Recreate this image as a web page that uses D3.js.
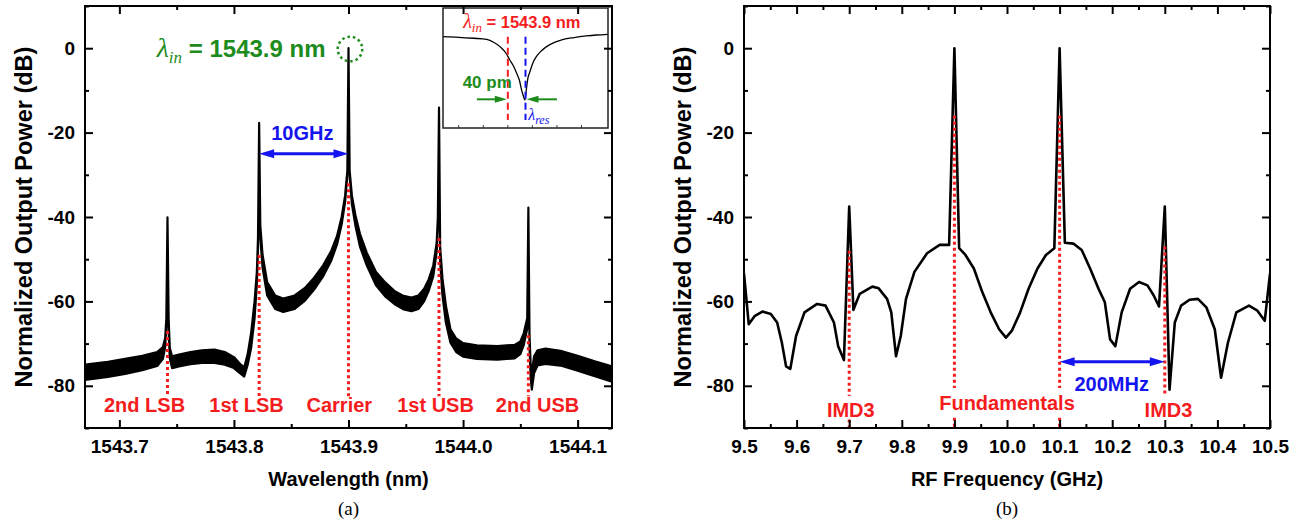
<!DOCTYPE html>
<html>
<head>
<meta charset="utf-8">
<script src="https://cdn.jsdelivr.net/npm/d3@7"></script>
<style>
body { margin: 0; background: #fff; }
</style>
</head>
<body>
<svg id="fig" width="1303" height="527" font-family="'Liberation Sans', Arial, sans-serif" font-weight="bold"></svg>
<script>
// ---- panel (a): optical spectrum, drawn as a band (upper / lower envelope) ----
const specWl = [1543.670, 1543.690, 1543.705, 1543.720, 1543.733, 1543.738, 1543.740, 1543.741, 1543.742, 1543.743,
    1543.744, 1543.746, 1543.752, 1543.762, 1543.772, 1543.783, 1543.792, 1543.800, 1543.806, 1543.809,
    1543.812, 1543.815, 1543.818, 1543.820, 1543.821, 1543.822, 1543.823, 1543.825, 1543.829, 1543.836,
    1543.843, 1543.853, 1543.862, 1543.870, 1543.878, 1543.885, 1543.890, 1543.894, 1543.897, 1543.899,
    1543.900, 1543.901, 1543.903, 1543.906, 1543.910, 1543.916, 1543.924, 1543.932, 1543.940, 1543.948,
    1543.955, 1543.961, 1543.966, 1543.970, 1543.974, 1543.977, 1543.978, 1543.979, 1543.980, 1543.982,
    1543.985, 1543.989, 1543.994, 1544.000, 1544.012, 1544.030, 1544.045, 1544.050, 1544.053, 1544.056,
    1544.057, 1544.058, 1544.059, 1544.060, 1544.062, 1544.065, 1544.072, 1544.085, 1544.100, 1544.115, 1544.130]
const specTop = [-75.0, -74.3, -73.6, -72.9, -72.0, -70.8, -68.6, -64.0, -40.1, -64.0,
    -71.0, -73.0, -72.6, -72.0, -71.6, -71.4, -72.0, -73.2, -75.0, -75.6,
    -72.5, -67.5, -60.0, -53.0, -45.0, -17.7, -42.0, -49.0, -55.4, -58.6,
    -59.3, -58.6, -56.8, -54.4, -51.4, -48.0, -44.5, -40.0, -35.0, -29.0,
    0.0, -29.0, -35.0, -39.5, -44.0, -48.5, -53.0, -55.5, -57.5, -58.7,
    -59.1, -58.6, -57.0, -54.8, -51.5, -46.0, -40.0, -14.1, -47.0, -54.5,
    -61.0, -66.6, -68.8, -69.9, -70.4, -70.6, -70.3, -69.5, -67.5, -64.0,
    -37.8, -68.0, -75.0, -77.0, -73.0, -71.6, -71.2, -71.7, -72.9, -74.2, -75.4]
const specBot = [-78.6, -77.9, -77.2, -76.3, -75.3, -73.6, -70.8, -66.0, -40.1, -67.0,
    -73.5, -75.8, -75.4, -74.9, -74.6, -74.6, -75.0, -75.8, -77.2, -77.8,
    -75.0, -71.0, -64.0, -56.0, -47.5, -17.7, -45.0, -52.0, -58.6, -61.8,
    -62.5, -61.8, -59.8, -57.2, -54.0, -50.3, -46.5, -41.8, -36.5, -30.0,
    0.0, -30.5, -37.0, -42.0, -47.0, -51.5, -56.2, -58.8, -60.6, -61.9,
    -62.3, -61.8, -60.0, -57.5, -54.0, -48.2, -42.0, -14.1, -50.5, -58.5,
    -65.0, -69.8, -72.0, -73.1, -73.6, -73.8, -73.5, -72.5, -70.3, -66.5,
    -37.8, -71.0, -78.0, -80.9, -77.0, -75.2, -74.8, -75.2, -76.4, -77.7, -79.0]

const sideNames = ["2nd LSB", "1st LSB", "Carrier", "1st USB", "2nd USB"]
const sideWl = [1543.742, 1543.822, 1543.900, 1543.979, 1544.057]
const sideMarkTop = [-67, -49, -32, -45, -68]
const sideMarkBottom = -82.5
const sideLabelWl = [1543.722, 1543.811, 1543.892, 1543.976, 1544.065]
const sideLabelDb = -84.6

const xTicksA = [1543.7, 1543.8, 1543.9, 1544.0, 1544.1]
const xMinorA = [1543.75, 1543.85, 1543.95, 1544.05]
const yTicks = [-80, -60, -40, -20, 0]
const yMinor = [-90, -70, -50, -30, -10, 10]

// inset: microring transmission (normalised)
const insetWl = [1543.768, 1543.800, 1543.830, 1543.857, 1543.872, 1543.884, 1543.896, 1543.904, 1543.912, 1543.918,
    1543.924, 1543.928, 1543.931, 1543.935, 1543.938, 1543.941, 1543.945, 1543.951, 1543.958, 1543.968,
    1543.979, 1543.995, 1544.013, 1544.035, 1544.060, 1544.080, 1544.104]
const insetT = [0.761, 0.756, 0.748, 0.739, 0.713, 0.678, 0.625, 0.567, 0.513, 0.456,
    0.392, 0.317, 0.275, 0.233, 0.330, 0.417, 0.469, 0.542, 0.594, 0.642,
    0.678, 0.713, 0.739, 0.754, 0.767, 0.775, 0.781]
const insetTicks = [1543.80, 1543.85, 1543.90, 1543.95, 1544.00, 1544.05]
const lambdaIn = 1543.900
const lambdaRes = 1543.936

// ---- panel (b): RF spectrum ----
const rfFreq = [9.500, 9.509, 9.520, 9.535, 9.551, 9.563, 9.572, 9.580, 9.588, 9.599,
    9.615, 9.639, 9.655, 9.671, 9.679, 9.690, 9.700, 9.708, 9.720, 9.744,
    9.756, 9.772, 9.780, 9.789, 9.798, 9.808, 9.824, 9.848, 9.872, 9.890,
    9.900, 9.909, 9.921, 9.937, 9.953, 9.969, 9.985, 9.998, 10.009, 10.025,
    10.041, 10.058, 10.074, 10.090, 10.100, 10.110, 10.126, 10.142, 10.158, 10.174,
    10.186, 10.196, 10.206, 10.218, 10.234, 10.251, 10.267, 10.279, 10.289, 10.300,
    10.309, 10.319, 10.331, 10.347, 10.363, 10.379, 10.395, 10.407, 10.420, 10.436,
    10.460, 10.476, 10.490, 10.500]
const rfPower = [-53.4, -65.4, -63.5, -62.4, -63.0, -65.0, -69.8, -75.4, -76.0, -68.2,
    -62.6, -60.6, -61.0, -65.0, -70.6, -73.9, -37.5, -62.0, -58.2, -56.5,
    -56.9, -59.4, -62.6, -73.0, -68.2, -59.4, -53.0, -48.6, -46.6, -46.6,
    0.0, -47.4, -49.0, -52.2, -57.8, -62.6, -66.6, -68.6, -67.0, -62.6,
    -57.0, -52.2, -49.0, -47.4, 0.0, -46.1, -46.3, -47.8, -52.2, -57.0,
    -60.2, -69.0, -70.6, -62.6, -57.0, -55.4, -56.2, -58.6, -61.2, -37.5,
    -80.9, -65.0, -61.0, -59.6, -59.4, -61.4, -66.6, -78.1, -69.8, -62.6,
    -61.0, -62.2, -64.6, -53.4]

const rfMarkFreq = [9.7, 9.9, 10.1, 10.3]
const rfMarkTop = [-48, -16, -16, -47]
const rfMarkBottom = [-82.4, -80.5, -80.5, -82.3]
const rfStubTop = [-88.0, -87.6, -87.6, null]
const rfLabels = ["IMD3", "Fundamentals", "IMD3"]
const rfLabelFreq = [9.703, 10.0, 10.307]
const rfLabelDb = [-85.7, -84.0, -85.7]

const xTicksB = [9.5, 9.6, 9.7, 9.8, 9.9, 10.0, 10.1, 10.2, 10.3, 10.4, 10.5]
const xMinorB = [9.55, 9.65, 9.75, 9.85, 9.95, 10.05, 10.15, 10.25, 10.35, 10.45]

const RED = "#f41c1c", BLUE = "#1414f0", GREEN = "#1d8c1d"
const SERIF = "'Liberation Serif', 'Times New Roman', serif"

const svg = d3.select("#fig")
svg.append("rect").attr("width", 1303).attr("height", 527).attr("fill", "#fff")

const yL = d3.scaleLinear().domain([-90, 10]).range([428, 6])
const xA = d3.scaleLinear().domain([1543.67, 1544.13]).range([85, 612])
const xB = d3.scaleLinear().domain([9.5, 10.5]).range([744, 1270])


function drawFrame(g, x, y, xMajor, xMinor, fmt) {
    const h = y.range()[0]
    const w = x.range()[1]
    function style(sel, sw) {
        sel.select(".domain").remove()
        sel.selectAll("line").attr("stroke", "#000").attr("stroke-width", sw)
        sel.selectAll("text").attr("font-size", 19).attr("fill", "#000")
        sel.attr("font-family", null).attr("font-size", null)
    }
    g.append("g").attr("transform", `translate(0,${h})`)
        .call(d3.axisBottom(x).tickValues(xMajor).tickSize(-8).tickPadding(12).tickFormat(fmt))
        .call(style, 2)
    g.append("g").attr("transform", `translate(0,${h})`)
        .call(d3.axisBottom(x).tickValues(xMinor).tickSize(-4).tickFormat(""))
        .call(style, 2)
    g.append("g").attr("transform", `translate(0,${y.range()[1]})`)
        .call(d3.axisTop(x).tickValues(xMajor).tickSize(-8).tickFormat(""))
        .call(style, 2)
    g.append("g").attr("transform", `translate(0,${y.range()[1]})`)
        .call(d3.axisTop(x).tickValues(xMinor).tickSize(-4).tickFormat(""))
        .call(style, 2)
    g.append("g").attr("transform", `translate(${x.range()[0]},0)`)
        .call(d3.axisLeft(y).tickValues(yTicks).tickSize(-8).tickPadding(10).tickFormat(d => String(d)))
        .call(style, 2)
    g.append("g").attr("transform", `translate(${x.range()[0]},0)`)
        .call(d3.axisLeft(y).tickValues(yMinor).tickSize(-4).tickFormat(""))
        .call(style, 2)
    g.append("g").attr("transform", `translate(${w},0)`)
        .call(d3.axisRight(y).tickValues(yTicks).tickSize(-8).tickFormat(""))
        .call(style, 2)
    g.append("g").attr("transform", `translate(${w},0)`)
        .call(d3.axisRight(y).tickValues(yMinor).tickSize(-4).tickFormat(""))
        .call(style, 2)
    g.append("rect")
        .attr("x", x.range()[0]).attr("y", y.range()[1])
        .attr("width", w - x.range()[0]).attr("height", h - y.range()[1])
        .attr("fill", "none").attr("stroke", "#000").attr("stroke-width", 2)
}


function arrowHead(g, tipX, tipY, dir, len, half, color) {
    // dir = +1 points right, -1 points left
    g.append("path")
        .attr("d", `M${tipX},${tipY} L${tipX - dir * len},${tipY - half} L${tipX - dir * len},${tipY + half} Z`)
        .attr("fill", color)
}

function doubleArrow(g, x1, x2, y, color) {
    g.append("line").attr("x1", x1 + 10).attr("x2", x2 - 10).attr("y1", y).attr("y2", y)
        .attr("stroke", color).attr("stroke-width", 3)
    arrowHead(g, x1, y, -1, 15, 4.5, color)
    arrowHead(g, x2, y, 1, 15, 4.5, color)
}

// lambda with italic serif subscript, then plain bold text
function lambdaText(g, x, y, color, sub, rest, bigSize, subSize, restSize, shift) {
    const t = g.append("text").attr("x", x).attr("y", y).attr("fill", color)
    t.append("tspan").attr("font-family", SERIF).attr("font-style", "italic")
        .attr("font-weight", "normal").attr("font-size", bigSize).text("λ")
    t.append("tspan").attr("font-family", SERIF).attr("font-style", "italic")
        .attr("font-weight", "normal").attr("font-size", subSize).attr("dy", shift).text(sub)
    if (rest) t.append("tspan").attr("font-size", restSize).attr("dy", -shift).text(rest)
    return t
}

// ================= panel (a) =================
const gA = svg.append("g")
svg.append("clipPath").attr("id", "clipA").append("rect")
    .attr("x", 85).attr("y", 6).attr("width", 527).attr("height", 422)

const specRows = specWl.map((w, i) => ({ w: w, hi: specTop[i], lo: specBot[i] }))
gA.append("path")
    .datum(specRows)
    .attr("clip-path", "url(#clipA)")
    .attr("d", d3.area().x(d => xA(d.w)).y0(d => yL(d.lo)).y1(d => yL(d.hi)))
    .attr("fill", "#000").attr("stroke", "#000").attr("stroke-width", 2.2)
    .attr("stroke-linejoin", "round")

sideWl.forEach((w, i) => {
    gA.append("line")
        .attr("x1", xA(w)).attr("x2", xA(w))
        .attr("y1", yL(sideMarkTop[i])).attr("y2", yL(sideMarkBottom))
        .attr("stroke", RED).attr("stroke-width", 3).attr("stroke-dasharray", "3,3")
    gA.append("text")
        .attr("x", xA(sideLabelWl[i])).attr("y", yL(sideLabelDb)).attr("dy", "0.36em")
        .attr("text-anchor", "middle").attr("font-size", 20).attr("fill", RED)
        .text(sideNames[i])
})

// 10 GHz spacing arrow
doubleArrow(gA, xA(sideWl[1]), xA(sideWl[2]), yL(-25), BLUE)
gA.append("text")
    .attr("x", xA(1543.8597)).attr("y", yL(-20)).attr("dy", "0.36em")
    .attr("text-anchor", "middle").attr("font-size", 20).attr("fill", BLUE)
    .text("10GHz")

// lambda_in label + dotted circle on the carrier
lambdaText(gA, xA(1543.7326), yL(-2.15), GREEN, "in", " = 1543.9 nm", 28, 17, 24, 6)
gA.append("circle")
    .attr("cx", xA(lambdaIn) + 1.5).attr("cy", yL(-0.2)).attr("r", 12.3)
    .attr("fill", "none").attr("stroke", GREEN).attr("stroke-width", 2.5)
    .attr("stroke-dasharray", "2.5,3")

// ---- inset ----
const xI = d3.scaleLinear().domain([1543.768, 1544.104]).range([443, 608])
const yI = d3.scaleLinear().domain([0, 1]).range([128, 8])
const gI = gA.append("g")
gI.append("rect").attr("x", 443).attr("y", 8).attr("width", 165).attr("height", 120)
    .attr("fill", "#fff")
gI.append("path")
    .datum(insetWl.map((w, i) => [w, insetT[i]]))
    .attr("d", d3.line().x(d => xI(d[0])).y(d => yI(d[1])).curve(d3.curveMonotoneX))
    .attr("fill", "none").attr("stroke", "#000").attr("stroke-width", 1.3)
gI.selectAll(".itick").data(insetTicks).enter().append("line")
    .attr("x1", d => xI(d)).attr("x2", d => xI(d))
    .attr("y1", yI(0)).attr("y2", yI(0) - 3)
    .attr("stroke", "#444").attr("stroke-width", 1)
gI.append("line")
    .attr("x1", xI(lambdaIn)).attr("x2", xI(lambdaIn)).attr("y1", yI(0.76)).attr("y2", yI(0.067))
    .attr("stroke", RED).attr("stroke-width", 2).attr("stroke-dasharray", "7,4")
gI.append("line")
    .attr("x1", xI(lambdaRes)).attr("x2", xI(lambdaRes)).attr("y1", yI(0.76)).attr("y2", yI(0.067))
    .attr("stroke", BLUE).attr("stroke-width", 2).attr("stroke-dasharray", "7,4")

// 40 pm arrows
const yArr = yI(0.239)
gI.append("line").attr("x1", xI(1543.837)).attr("x2", xI(lambdaIn) - 10).attr("y1", yArr).attr("y2", yArr)
    .attr("stroke", GREEN).attr("stroke-width", 2)
arrowHead(gI, xI(lambdaIn) - 1, yArr, 1, 12, 3.5, GREEN)
gI.append("line").attr("x1", xI(1544.0)).attr("x2", xI(lambdaRes) + 10).attr("y1", yArr).attr("y2", yArr)
    .attr("stroke", GREEN).attr("stroke-width", 2)
arrowHead(gI, xI(lambdaRes) + 1, yArr, -1, 12, 3.5, GREEN)

gI.append("text").attr("x", xI(1543.808)).attr("y", yI(0.331))
    .attr("font-size", 17).attr("fill", GREEN).text("40 pm")

lambdaText(gI, xI(1543.809), yI(0.831), RED, "in", " = 1543.9 nm", 20, 13, 16.5, 4)
lambdaText(gI, xI(1543.9415), yI(0.067), BLUE, "res", null, 16, 12, 0, 4)

gI.append("rect").attr("x", 443).attr("y", 8).attr("width", 165).attr("height", 120)
    .attr("fill", "none").attr("stroke", "#222").attr("stroke-width", 1.5)

drawFrame(gA, xA, yL, xTicksA, xMinorA, d3.format(".1f"))

// ================= panel (b) =================
const gB = svg.append("g")
svg.append("clipPath").attr("id", "clipB").append("rect")
    .attr("x", 744).attr("y", 6).attr("width", 526).attr("height", 422)

gB.append("path")
    .datum(rfFreq.map((f, i) => [f, rfPower[i]]))
    .attr("clip-path", "url(#clipB)")
    .attr("d", d3.line().x(d => xB(d[0])).y(d => yL(d[1])))
    .attr("fill", "none").attr("stroke", "#000").attr("stroke-width", 2.6)
    .attr("stroke-linejoin", "round")

rfMarkFreq.forEach((f, i) => {
    gB.append("line")
        .attr("x1", xB(f)).attr("x2", xB(f))
        .attr("y1", yL(rfMarkTop[i])).attr("y2", yL(rfMarkBottom[i]))
        .attr("stroke", RED).attr("stroke-width", 3).attr("stroke-dasharray", "3,3")
    if (rfStubTop[i] !== null) {
        gB.append("line")
            .attr("x1", xB(f)).attr("x2", xB(f))
            .attr("y1", yL(rfStubTop[i])).attr("y2", yL(-90))
            .attr("stroke", RED).attr("stroke-width", 3).attr("stroke-dasharray", "3,3")
    }
})
rfLabels.forEach((t, i) => {
    gB.append("text")
        .attr("x", xB(rfLabelFreq[i])).attr("y", yL(rfLabelDb[i])).attr("dy", "0.36em")
        .attr("text-anchor", "middle").attr("font-size", 20).attr("fill", RED)
        .text(t)
})

doubleArrow(gB, xB(10.1), xB(10.3), yL(-74.3), BLUE)
gB.append("text")
    .attr("x", xB(10.199)).attr("y", yL(-79.6)).attr("dy", "0.36em")
    .attr("text-anchor", "middle").attr("font-size", 20).attr("fill", BLUE)
    .text("200MHz")

drawFrame(gB, xB, yL, xTicksB, xMinorB, d3.format(".1f"))

// ---- titles ----
const panels = [
    { cx: 24, mid: 348.5, xTitle: "Wavelength (nm)", tag: "(a)" },
    { cx: 683, mid: 1007, xTitle: "RF Frequency (GHz)", tag: "(b)" }
]
panels.forEach(p => {
    svg.append("text")
        .attr("transform", `translate(${p.cx},217) rotate(-90)`)
        .attr("text-anchor", "middle").attr("dy", "0.35em")
        .attr("font-size", 23.5).text("Normalized Output Power (dB)")
    svg.append("text")
        .attr("x", p.mid).attr("y", 479).attr("dy", "0.35em")
        .attr("text-anchor", "middle").attr("font-size", 20).text(p.xTitle)
    svg.append("text")
        .attr("x", p.mid).attr("y", 515)
        .attr("text-anchor", "middle").attr("font-size", 19)
        .attr("font-family", SERIF).attr("font-weight", "normal").text(p.tag)
})
</script>
</body>
</html>
